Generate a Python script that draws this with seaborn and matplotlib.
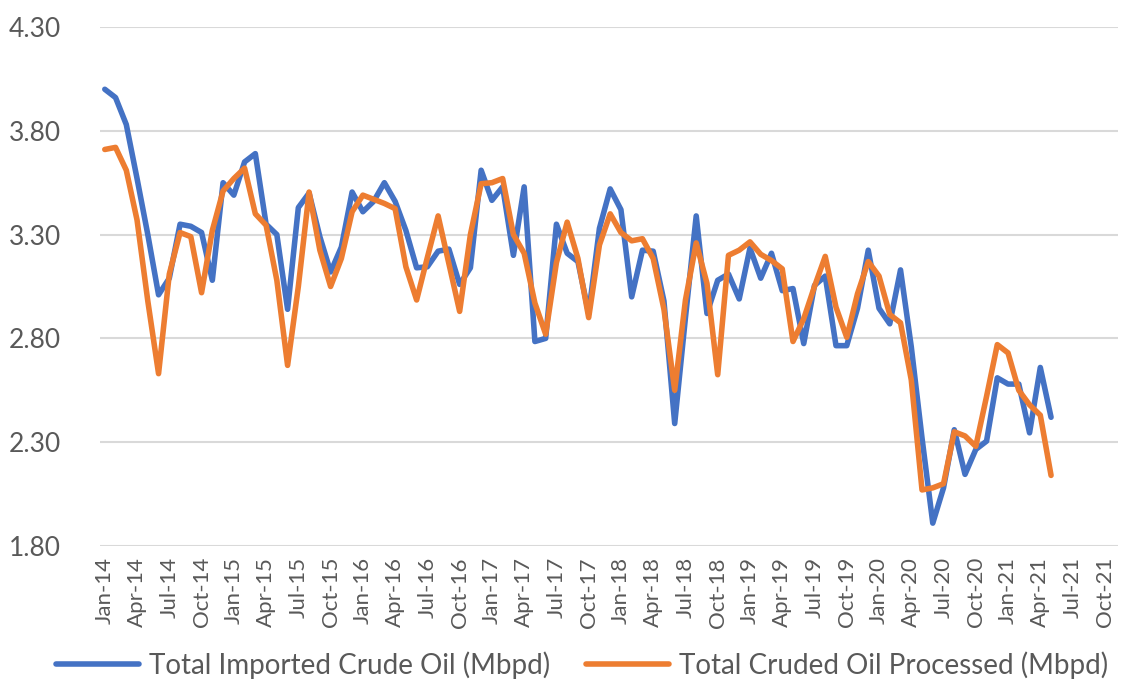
import matplotlib
matplotlib.use("Agg")
import matplotlib.pyplot as plt
import seaborn as sns
import pandas as pd

sns.set_theme(style="white")
plt.rcParams["font.family"] = ["Lato", "DejaVu Sans"]

# monthly values, Jan-14 .. May-21
imported = [
    4.00, 3.96, 3.83, 3.57, 3.30, 3.01, 3.09, 3.35, 3.34, 3.31, 3.08, 3.55,
    3.49, 3.65, 3.69, 3.35, 3.30, 2.94, 3.43, 3.50, 3.29, 3.12, 3.24, 3.505,
    3.41, 3.46, 3.55, 3.46, 3.32, 3.14, 3.145, 3.22, 3.23, 3.06, 3.14, 3.61,
    3.465, 3.53, 3.20, 3.53, 2.785, 2.80, 3.35, 3.21, 3.17, 2.92, 3.33, 3.52,
    3.42, 3.00, 3.225, 3.22, 2.98, 2.39, 2.90, 3.39, 2.92, 3.08, 3.11, 2.99,
    3.235, 3.09, 3.21, 3.03, 3.04, 2.775, 3.055, 3.10, 2.765, 2.765, 2.945, 3.225,
    2.945, 2.87, 3.13, 2.76, 2.32, 1.91, 2.08, 2.36, 2.145, 2.265, 2.305, 2.61,
    2.58, 2.58, 2.345, 2.66, 2.42,
]
processed = [
    3.71, 3.72, 3.61, 3.37, 2.98, 2.63, 3.11, 3.31, 3.29, 3.02, 3.32, 3.51,
    3.57, 3.62, 3.40, 3.345, 3.08, 2.67, 3.05, 3.505, 3.225, 3.05, 3.185, 3.41,
    3.49, 3.47, 3.45, 3.425, 3.145, 2.985, 3.19, 3.39, 3.16, 2.93, 3.30, 3.545,
    3.55, 3.57, 3.30, 3.21, 2.97, 2.82, 3.165, 3.36, 3.185, 2.90, 3.25, 3.40,
    3.31, 3.27, 3.28, 3.185, 2.94, 2.55, 2.985, 3.26, 3.065, 2.625, 3.20, 3.225,
    3.265, 3.205, 3.175, 3.135, 2.785, 2.895, 3.05, 3.195, 2.95, 2.805, 3.015, 3.17,
    3.10, 2.915, 2.875, 2.60, 2.07, 2.08, 2.10, 2.35, 2.33, 2.28, 2.52, 2.77,
    2.73, 2.55, 2.48, 2.43, 2.14,
]
tick_labels = [
    "Jan-14", "Apr-14", "Jul-14", "Oct-14", "Jan-15", "Apr-15", "Jul-15", "Oct-15",
    "Jan-16", "Apr-16", "Jul-16", "Oct-16", "Jan-17", "Apr-17", "Jul-17", "Oct-17",
    "Jan-18", "Apr-18", "Jul-18", "Oct-18", "Jan-19", "Apr-19", "Jul-19", "Oct-19",
    "Jan-20", "Apr-20", "Jul-20", "Oct-20", "Jan-21", "Apr-21", "Jul-21", "Oct-21",
]
y_ticks = [1.80, 2.30, 2.80, 3.30, 3.80, 4.30]
series_names = ["Total Imported Crude Oil (Mbpd)", "Total Cruded Oil Processed (Mbpd)"]

df = pd.DataFrame({
    "month": list(range(len(imported))) * 2,
    "value": imported + processed,
    "series": [series_names[0]] * len(imported) + [series_names[1]] * len(processed),
})
palette = {series_names[0]: "#4472C4", series_names[1]: "#ED7D31"}

fig = plt.figure(figsize=(11.41, 6.92), dpi=100)
ax = fig.add_axes([0.0876, 0.211, 0.892, 0.750])

sns.lineplot(data=df, x="month", y="value", hue="series", palette=palette,
             linewidth=4.0, ax=ax, legend=False)

ax.set_xlim(-0.45, 94.2)
ax.set_ylim(1.80, 4.30)
ax.set_yticks(y_ticks)
ax.set_yticklabels([f"{v:.2f}" for v in y_ticks])
ax.set_xticks(range(0, 3 * len(tick_labels), 3))
ax.set_xticklabels(tick_labels, rotation=90)
ax.grid(axis="y", color="#D9D9D9", linewidth=1.5)
ax.set_axisbelow(True)
for s in ax.spines.values():
    s.set_visible(False)
ax.tick_params(axis="y", length=0, pad=28, labelsize=19, labelcolor="#595959")
ax.tick_params(axis="x", length=0, pad=8, labelsize=16, labelcolor="#595959")
ax.set_xlabel("")
ax.set_ylabel("")

handles = [plt.Line2D([], [], color=palette[n], linewidth=4.0) for n in series_names]
fig.legend(handles, series_names, loc="center", bbox_to_anchor=(0.51, 0.039),
           ncol=2, frameon=False, fontsize=20, handlelength=3.0,
           columnspacing=1.3, handletextpad=0.35, labelcolor="#595959")

plt.savefig("out.png", dpi=100)
plt.close()
